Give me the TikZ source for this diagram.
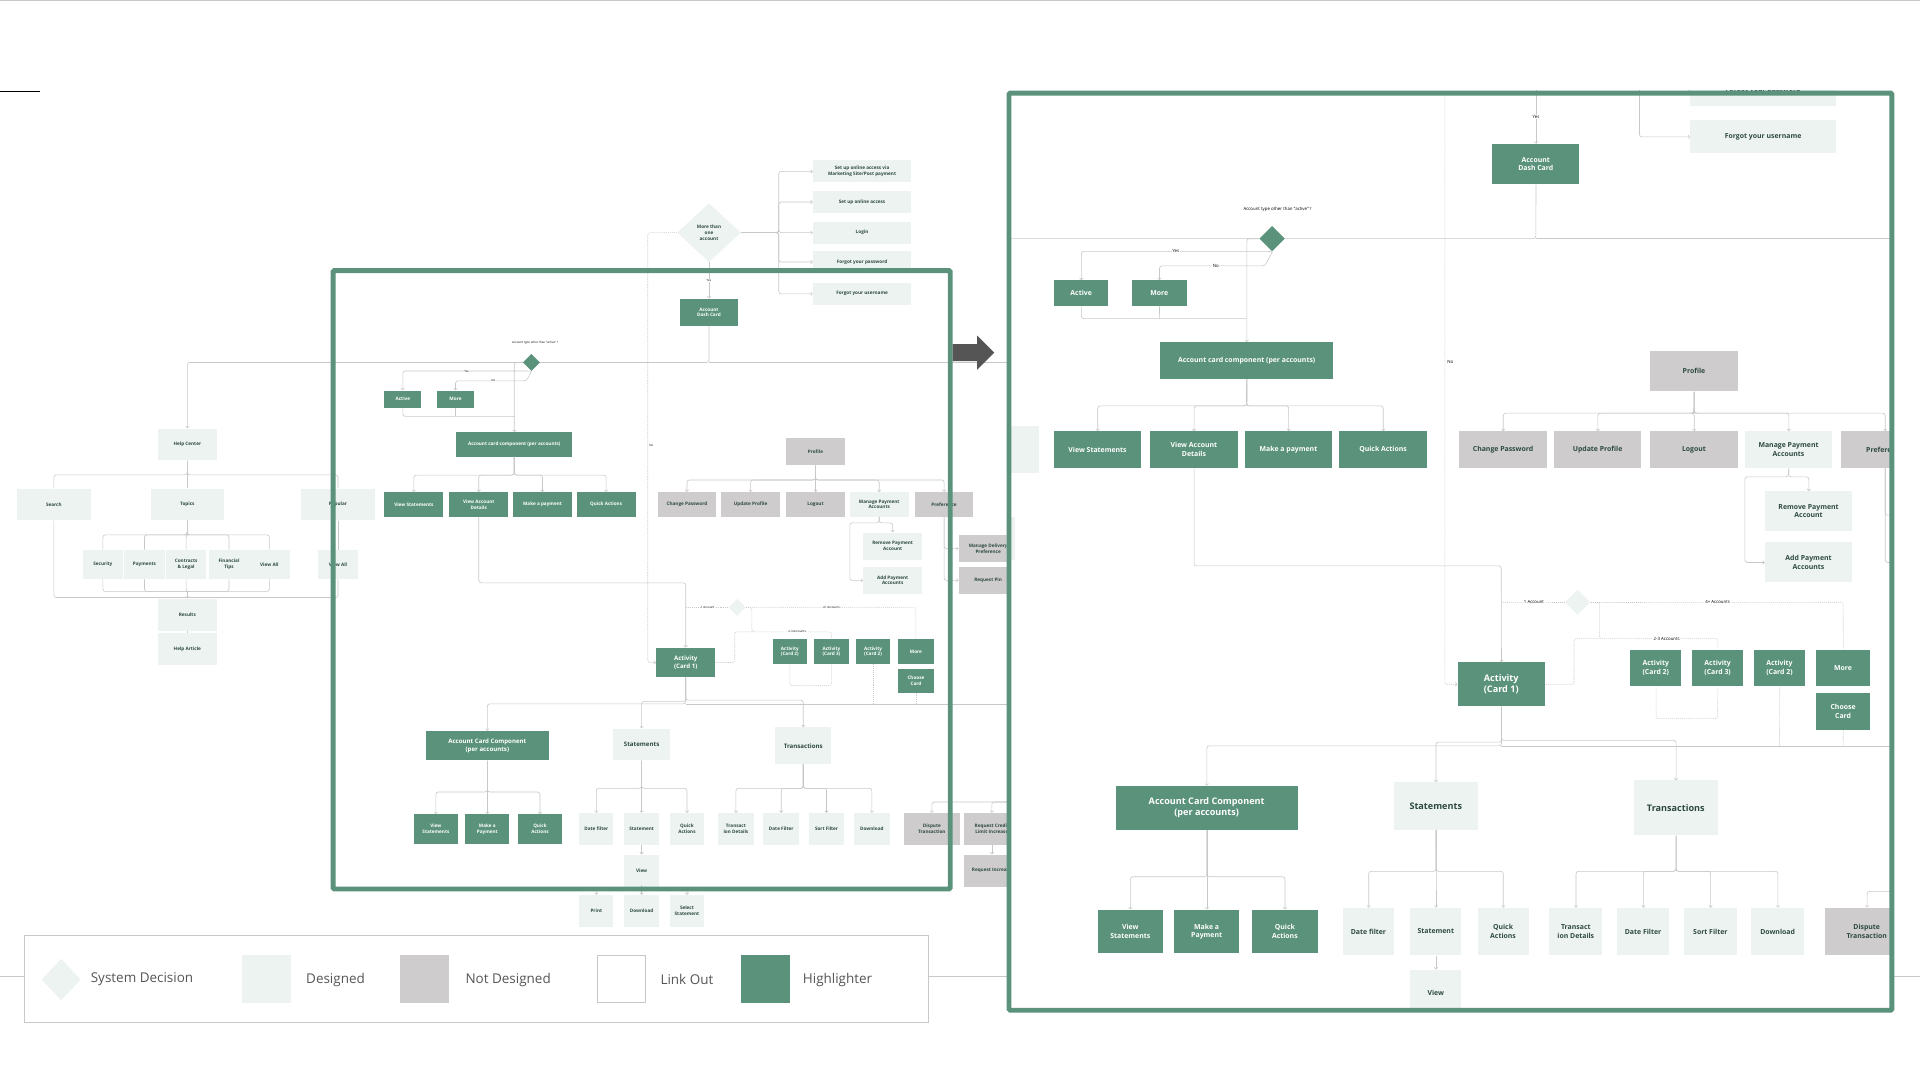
\documentclass[tikz,border=0pt]{standalone}
\usepackage{fontspec}
\setmainfont{Open Sans}
\usetikzlibrary{shapes.geometric,arrows.meta,calc}
\definecolor{hc}{HTML}{5A927B}
\definecolor{dc}{HTML}{EDF3F0}
\definecolor{nc}{HTML}{CECCCD}
\definecolor{tc}{HTML}{2D4A3F}
\definecolor{lc}{HTML}{C8C8C8}
\definecolor{ac}{HTML}{555555}
\newcommand\fsa{\fontsize{3.8}{4.6}\selectfont\bfseries}
\newcommand\fsb{\fontsize{5}{6.2}\selectfont\bfseries}
\newcommand\fsl{\fontsize{2.4}{3}\selectfont}
\tikzset{
 c/.style={draw=lc, line width=0.5pt, rounded corners=2pt},
 ca/.style={c, -{Straight Barb[length=1.4pt,width=2.8pt]}},
 dt/.style={c, dash pattern=on 0.8pt off 0.8pt},
 dta/.style={dt, -{Straight Barb[length=1.4pt,width=2.8pt]}},
 b/.style={rectangle, inner sep=0.3pt, align=center, text=tc, font=\fsa},
 d/.style={b, fill=dc}, h/.style={b, fill=hc, text=white}, n/.style={b, fill=nc},
 sz/.style 2 args={minimum width=#1, minimum height=#2},
 lab/.style={font=\fsl, text=black, inner sep=0.3pt, fill=white},
}
\newcommand\myflow{%
 \node[d,sz={80}{18}] (su1) at (704,140) {Set up online access via\\Marketing Site/Post payment};
 \node[d,sz={80}{18}] (su2) at (704,165) {Set up online access};
 \node[d,sz={80}{18}] (lg) at (704,190) {Login};
 \node[d,sz={80}{18}] (fp) at (704,214) {Forgot your password};
 \node[d,sz={80}{18}] (fu) at (704,240) {Forgot your username};
 \node[diamond,fill=dc,minimum width=52,minimum height=48,inner sep=0,align=center,text=tc,font=\fsa] (mo) at (579,190) {More than\\one\\account};
 \foreach \t in {su1,su2,lg,fp,fu}{\draw[ca] (mo.east) -- (636,190) |- (\t.west);}
 \node[h,sz={48}{22}] (dash) at (579,255) {Account\\Dash Card};
 \draw[ca] (mo.south) -- (dash.north) node[lab,pos=0.5] {Yes};
 \node[d,sz={48}{26}] (help) at (153,363) {Help Center};
 \draw[ca] (dash.south) -- (579,296) -| (help.north);
 \draw[c] (579,296) -- (835,296);
 \node[diamond,fill=hc,minimum size=14,inner sep=0] (at) at (434,296) {};
 \node[lab,fill=none] at (437,280) {Account type other than "active" ?};
 \node[h,sz={30}{14}] (act) at (329,326) {Active};
 \node[h,sz={30}{14}] (more1) at (372,326) {More};
 \draw[ca] (at.south) -- (432,303) -| (act.north);
 \draw[ca] (at.south) -- (430,311) -| (more1.north);
 \node[lab] at (381,303) {Yes};
 \node[lab] at (403,311) {No};
 \node[h,sz={95}{20}] (acc) at (420,363) {Account card component (per accounts)};
 \draw[ca] (at.west) -| (acc.north);
 \draw[c] (act.south) |- (420,340);
 \draw[c] (more1.south) -- (372,340);
 \foreach \x/\n/\t in {338/vs/View Statements,391/vad/View Account\\Details,443/mp/Make a payment,495/qa/Quick Actions}{
   \node[h,sz={48}{20}] (\n) at (\x,412) {\t};
   \draw[ca] (acc.south) -- (420,388) -| (\n.north);}
 \node[n,sz={48}{22}] (prof) at (666,369) {Profile};
 \foreach \x/\n/\t/\s in {561/cp/Change Password/n,613/upf/Update Profile/n,666/lo/Logout/n,718/mpa/Manage Payment\\Accounts/d,771/pref/Preference/n}{
   \node[\s,sz={48}{20}] (\n) at (\x,412) {\t};
   \draw[ca] (prof.south) -- (666,392) -| (\n.north);}
 \node[d,sz={48}{22}] (rpa) at (729,446) {Remove Payment\\Account};
 \node[d,sz={48}{22}] (apa) at (729,474) {Add Payment\\Accounts};
 \draw[ca] (mpa.south) -- (718,427) -| (rpa.north);
 \draw[ca] (mpa.south) -- (718,427) -| (694,440) |- (apa.west);
 \node[n,sz={48}{22}] (mdp) at (807,448) {Manage Delivery\\Preference};
 \node[n,sz={48}{22}] (rpin) at (807,474) {Request Pin};
 \draw[ca] (pref.south) |- (mdp.west);
 \draw[ca] (pref.south) |- (rpin.west);
 \node[h,sz={48}{24},font=\fsb] (a1) at (560,541) {Activity\\(Card 1)};
 \draw[ca] (vad.south) |- (560,476) -- (a1.north);
 \draw[dta] (mo.west) -- (529,190) |- (a1.west);
 \node[lab] at (532,364) {No};
 \node[diamond,fill=dc,minimum size=14,inner sep=0] (ad) at (602,496) {};
 \draw[dt] (ad.west) -- (560,496);
 \node[lab] at (578,496) {1 Account};
 \node[h,sz={28}{20}] (c2) at (645,532) {Activity\\(Card 2)};
 \node[h,sz={28}{20}] (c3) at (679,532) {Activity\\(Card 3)};
 \node[h,sz={28}{20}] (c2b) at (713,532) {Activity\\(Card 2)};
 \node[h,sz={30}{20}] (more2) at (748,532) {More};
 \node[h,sz={30}{20}] (cc) at (748,556) {Choose\\Card};
 \draw[dt] (ad.east) -- (748,496) -- (more2.north);
 \node[lab] at (679,496) {4+ Accounts};
 \draw[dt] (ad.east) -- (614,496) -- (614,516) -| (c3.north);
 \node[lab] at (651,516) {2-3 Accounts};
 \draw[dt] (614,516) -- (600,516) |- (a1.east);
 \draw[dt] (c2.south) |- (679,560) -- (c3.south);
 \draw[dt] (c2b.south) -- (713,575);
 \draw[dt] (cc.south) -- (748,575);
 \node[h,sz={100}{24},font=\fsb] (acc2) at (398,609) {Account Card Component\\(per accounts)};
 \node[d,sz={46}{26},font=\fsb] (st) at (524,608) {Statements};
 \node[d,sz={46}{30},font=\fsb] (tr) at (656,609) {Transactions};
 \foreach \n in {acc2,st,tr}{\draw[ca] (a1.south) |- ($(\n.north)+(0,-22)$) -- (\n.north);}
 \draw[c] (560,575) -- (835,575);
 \foreach \x/\n/\t in {356/b1/View\\Statements,398/b2/Make a\\Payment,441/b3/Quick\\Actions}{
   \node[h,sz={36}{24}] (\n) at (\x,677) {\t};
   \draw[ca] (acc2.south) |- ($(\n.north)+(0,-18)$) -- (\n.north);}
 \foreach \x/\n/\t in {487/b4/Date filter,524/b5/Statement,561/b6/Quick\\Actions}{
   \node[d,sz={28}{26}] (\n) at (\x,677) {\t};
   \draw[ca] (st.south) |- ($(\n.north)+(0,-20)$) -- (\n.north);}
 \foreach \x/\n/\t in {601/b7/Transact\\ion Details,638/b8/Date Filter,675/b9/Sort Filter,712/b10/Download}{
   \node[d,sz={29}{26}] (\n) at (\x,677) {\t};
   \draw[ca] (tr.south) |- ($(\n.north)+(0,-20)$) -- (\n.north);}
 \node[n,sz={46}{26}] (dis) at (761,677) {Dispute\\Transaction};
 \node[n,sz={46}{26}] (rcl) at (810,677) {Request Credit\\Limit Increase};
 \draw[ca] (835,655) -| (dis.north);
 \draw[ca] (835,655) -| (rcl.north);
 \node[n,sz={46}{26}] (ri) at (810,711) {Request Increase};
 \draw[ca] (rcl.south) -- (ri.north);
 \node[d,sz={28}{26}] (view) at (524,711) {View};
 \draw[ca] (b5.south) -- (view.north);
 \foreach \x/\n/\t in {487/p1/Print,524/p2/Download,561/p3/Select\\Statement}{
   \node[d,sz={28}{26}] (\n) at (\x,744) {\t};
   \draw[ca] (view.south) |- ($(\n.north)+(0,-5)$) -- (\n.north);}
 \node[d,sz={60}{26}] (srch) at (44,412) {Search};
 \node[d,sz={60}{26}] (top) at (153,412) {Topics};
 \node[d,sz={60}{26}] (pop) at (276,412) {Popular};
 \foreach \n in {srch,top,pop}{\draw[c] (help.south) |- ($(\n.north)+(0,-11)$) -- (\n.north);}
 \node[d,sz={48}{26}] (res) at (153,502) {Results};
 \node[d,sz={48}{26}] (art) at (153,530) {Help Article};
 \draw[c] (res.south) -- (art.north);
 \foreach \x/\n/\t in {84/t1/Security,118/t2/Payments,152/t3/Contracts\\\& Legal,187/t4/Financial\\Tips,220/t5/View All}{
   \node[d,sz={33}{24}] (\n) at (\x,461) {\t};
   \draw[c] (top.south) |- ($(\n.north)+(0,-12)$) -- (\n.north);
   \draw[c] (\n.south) |- (153,483);}
 \node[d,sz={33}{24}] (va2) at (276,461) {View All};
 \draw[c] (pop.south) -- (va2.north);
 \draw[c] (srch.south) |- (153,488);
 \draw[c] (va2.south) |- (153,488);
 \draw[ca] (153,483) -- (res.north);
}
\begin{document}
\begin{tikzpicture}[x=1pt,y=-1pt]
\useasboundingbox (0,0) rectangle (1568,882);
\fill[white] (0,0) rectangle (1568,882);
\draw[lc,line width=0.5pt] (0,0.5) -- (1568,0.5);
\draw[black,line width=0.6pt] (0,75) -- (33,75);
\draw[lc,line width=0.6pt] (0,797) -- (1568,797);
\myflow
\draw[hc,line width=4pt,rounded corners=1pt] (272,221) rectangle (776,726);
\fill[ac] (778,281) -- (798,281) -- (798,274) -- (812,288) -- (798,302) -- (798,295) -- (778,295) -- cycle;
\draw[lc,fill=white,line width=0.6pt] (20,764) rectangle (758,835);
\node[diamond,fill=dc,minimum width=32,minimum height=34,inner sep=0] (lg1) at (50,800) {};
\node[font=\fontsize{11}{13}\selectfont,text=ac] at (116,800) {System Decision};
\fill[dc] (198,780) rectangle (238,819);
\node[font=\fontsize{11}{13}\selectfont,text=ac] at (274,800) {Designed};
\fill[nc] (327,780) rectangle (367,819);
\node[font=\fontsize{11}{13}\selectfont,text=ac] at (415,800) {Not Designed};
\draw[lc,fill=white,line width=0.6pt] (488,780) rectangle (527,819);
\node[font=\fontsize{11}{13}\selectfont,text=ac] at (561,800) {Link Out};
\fill[hc] (605,780) rectangle (645,819);
\node[font=\fontsize{11}{13}\selectfont,text=ac] at (684,800) {Highlighter};
\fill[white] (822,74) rectangle (1546,826);
\begin{scope}
\clip (822,74) rectangle (1546,826);
\begin{scope}[shift={(394.4,-244.7)},scale=1.485,transform shape]
\myflow
\end{scope}
\end{scope}
\draw[hc,line width=4pt,rounded corners=1pt] (824,76) rectangle (1545,825);
\end{tikzpicture}
\end{document}
